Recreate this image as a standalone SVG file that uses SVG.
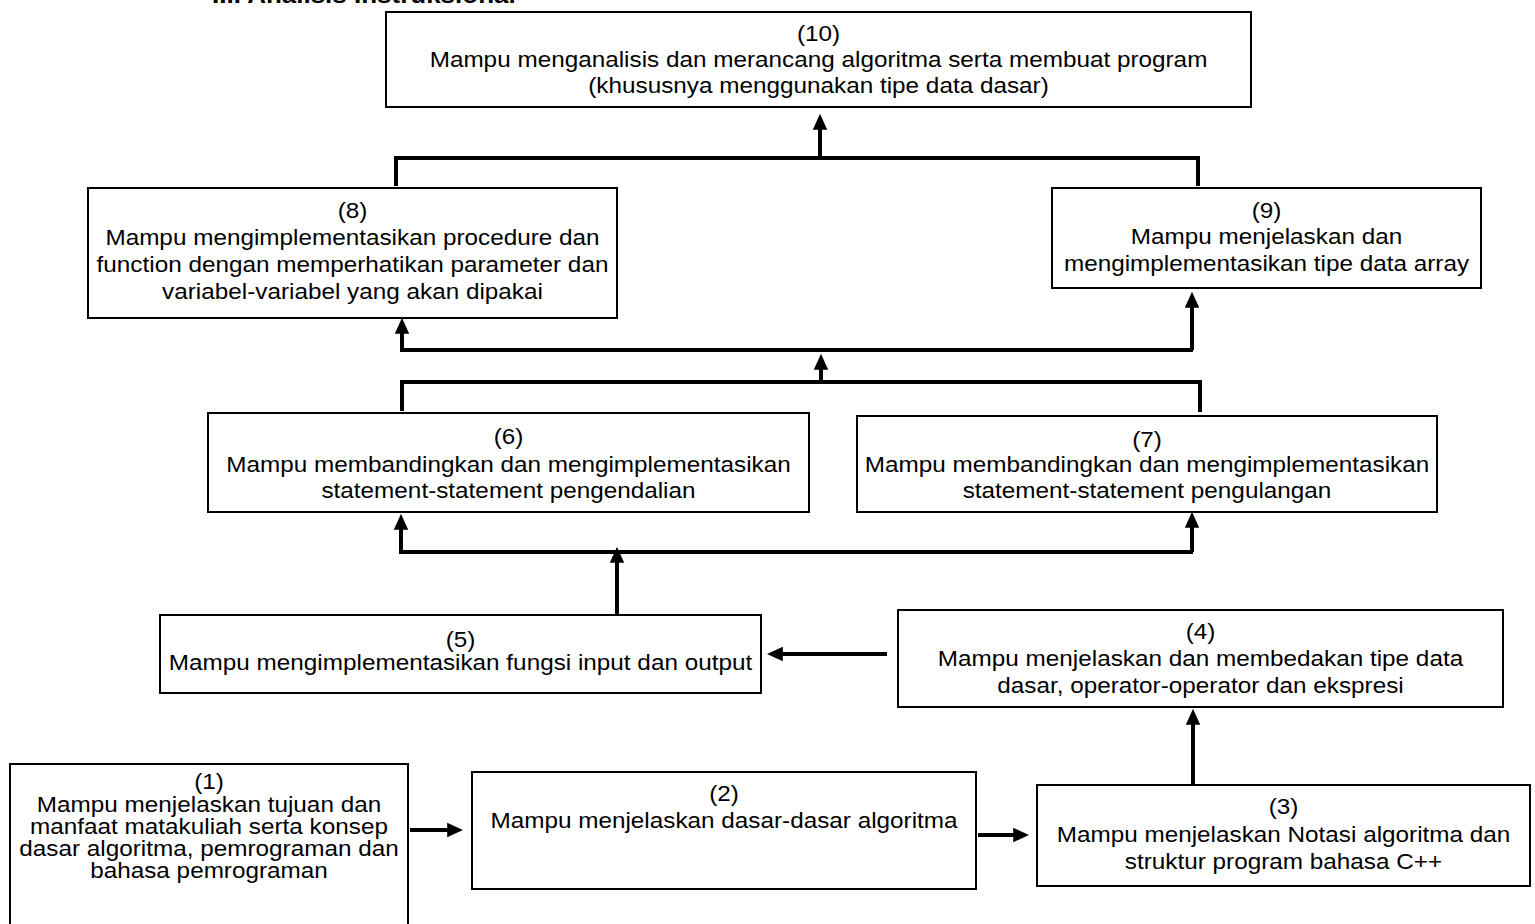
<svg xmlns="http://www.w3.org/2000/svg" width="1535" height="924" viewBox="0 0 1535 924">
<style>
.box{fill:#fff;stroke:#000;stroke-width:2}
.t{font-family:"Liberation Sans",Arial,sans-serif;font-size:21.5px;fill:#000;text-anchor:middle}
.title{font-family:"Liberation Sans",Arial,sans-serif;font-size:23px;font-weight:bold;fill:#000}
.c{fill:none;stroke:#000;stroke-width:4}
</style>
<defs>
<marker id="ah" markerWidth="4" markerHeight="4" refX="2.2" refY="2" orient="auto" markerUnits="strokeWidth" viewBox="0 0 4 4">
<path d="M0,0.2 L4,2 L0,3.8 Z" fill="#000"/>
</marker>
</defs>
<rect width="1535" height="924" fill="#fff"/>
<text class="title" transform="translate(212 0) scale(1.13 1)" x="0" y="3">III. Analisis Instruksional</text>

<g id="connectors">
<path class="c" d="M410,830 H456" marker-end="url(#ah)"/>
<path class="c" d="M978,835 H1022" marker-end="url(#ah)"/>
<path class="c" d="M1193,785 V716" marker-end="url(#ah)"/>
<path class="c" d="M887,654 H774" marker-end="url(#ah)"/>
<path class="c" d="M617,615 V554" marker-end="url(#ah)"/>
<path class="c" d="M399,552 H1193"/>
<path class="c" d="M401,552 V521" marker-end="url(#ah)"/>
<path class="c" d="M1192,552 V519" marker-end="url(#ah)"/>
<path class="c" d="M402,411 V382 H1200 V412"/>
<path class="c" d="M821,382 V361" marker-end="url(#ah)"/>
<path class="c" d="M400,350 H1193"/>
<path class="c" d="M402,350 V325" marker-end="url(#ah)"/>
<path class="c" d="M1192,350 V299" marker-end="url(#ah)"/>
<path class="c" d="M396,186 V158 H1198 V186"/>
<path class="c" d="M820,158 V121" marker-end="url(#ah)"/>
</g>

<g id="n10">
<rect class="box" x="386" y="12" width="865" height="95"/>
<g transform="translate(818.5 0) scale(1.13 1)">
<text class="t" x="0" y="41">(10)</text>
<text class="t" x="0" y="67">Mampu menganalisis dan merancang algoritma serta membuat program</text>
<text class="t" x="0" y="93">(khususnya menggunakan tipe data dasar)</text>
</g>
</g>

<g id="n8">
<rect class="box" x="88" y="188" width="529" height="130"/>
<g transform="translate(352.5 0) scale(1.13 1)">
<text class="t" x="0" y="218">(8)</text>
<text class="t" x="0" y="245">Mampu mengimplementasikan procedure dan</text>
<text class="t" x="0" y="272">function dengan memperhatikan parameter dan</text>
<text class="t" x="0" y="299">variabel-variabel yang akan dipakai</text>
</g>
</g>

<g id="n9">
<rect class="box" x="1052" y="188" width="429" height="100"/>
<g transform="translate(1266.5 0) scale(1.13 1)">
<text class="t" x="0" y="218">(9)</text>
<text class="t" x="0" y="244">Mampu menjelaskan dan</text>
<text class="t" x="0" y="271">mengimplementasikan tipe data array</text>
</g>
</g>

<g id="n6">
<rect class="box" x="208" y="413" width="601" height="99"/>
<g transform="translate(508.5 0) scale(1.13 1)">
<text class="t" x="0" y="444">(6)</text>
<text class="t" x="0" y="472">Mampu membandingkan dan mengimplementasikan</text>
<text class="t" x="0" y="498">statement-statement pengendalian</text>
</g>
</g>

<g id="n7">
<rect class="box" x="857" y="416" width="580" height="96"/>
<g transform="translate(1147 0) scale(1.13 1)">
<text class="t" x="0" y="447">(7)</text>
<text class="t" x="0" y="472">Mampu membandingkan dan mengimplementasikan</text>
<text class="t" x="0" y="498">statement-statement pengulangan</text>
</g>
</g>

<g id="n5">
<rect class="box" x="160" y="615" width="601" height="78"/>
<g transform="translate(460.5 0) scale(1.13 1)">
<text class="t" x="0" y="647">(5)</text>
<text class="t" x="0" y="670">Mampu mengimplementasikan fungsi input dan output</text>
</g>
</g>

<g id="n4">
<rect class="box" x="898" y="610" width="605" height="97"/>
<g transform="translate(1200.5 0) scale(1.13 1)">
<text class="t" x="0" y="639">(4)</text>
<text class="t" x="0" y="666">Mampu menjelaskan dan membedakan tipe data</text>
<text class="t" x="0" y="693">dasar, operator-operator dan ekspresi</text>
</g>
</g>

<g id="n1">
<rect class="box" x="10" y="764" width="398" height="170"/>
<g transform="translate(209 0) scale(1.13 1)">
<text class="t" x="0" y="789">(1)</text>
<text class="t" x="0" y="812">Mampu menjelaskan tujuan dan</text>
<text class="t" x="0" y="834">manfaat matakuliah serta konsep</text>
<text class="t" x="0" y="856">dasar algoritma, pemrograman dan</text>
<text class="t" x="0" y="878">bahasa pemrograman</text>
</g>
</g>

<g id="n2">
<rect class="box" x="472" y="772" width="504" height="117"/>
<g transform="translate(724 0) scale(1.13 1)">
<text class="t" x="0" y="801">(2)</text>
<text class="t" x="0" y="828">Mampu menjelaskan dasar-dasar algoritma</text>
</g>
</g>

<g id="n3">
<rect class="box" x="1037" y="785" width="493" height="101"/>
<g transform="translate(1283.5 0) scale(1.13 1)">
<text class="t" x="0" y="814">(3)</text>
<text class="t" x="0" y="842">Mampu menjelaskan Notasi algoritma dan</text>
<text class="t" x="0" y="869">struktur program bahasa C++</text>
</g>
</g>
</svg>
